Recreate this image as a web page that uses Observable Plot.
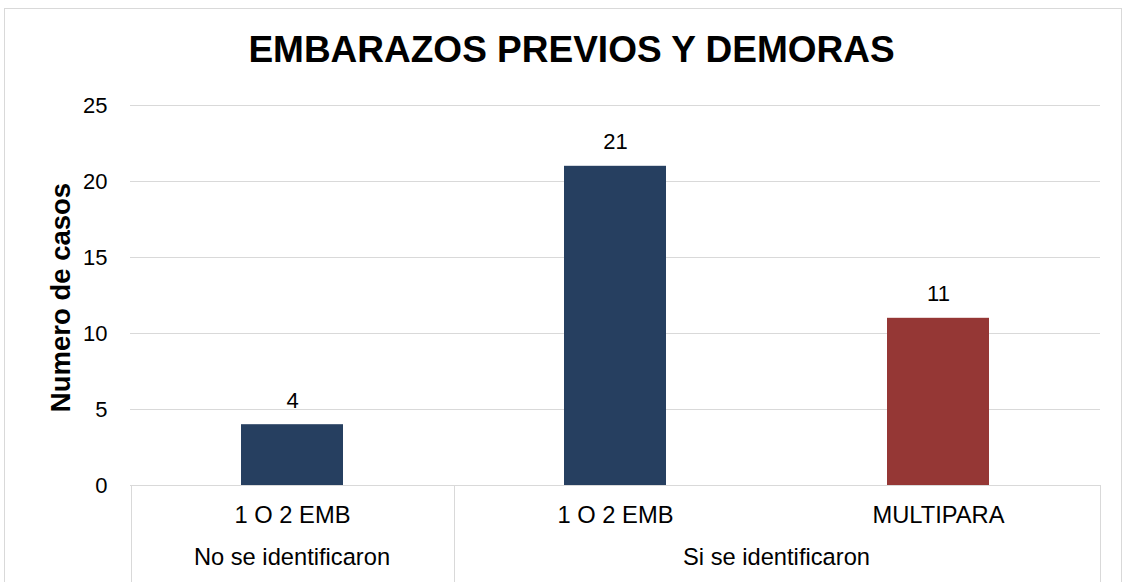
<!DOCTYPE html>
<html>
<head>
<meta charset="utf-8">
<script src="https://cdn.jsdelivr.net/npm/d3@7"></script>
<script src="https://cdn.jsdelivr.net/npm/@observablehq/plot@0.6"></script>
<style>
  html, body { margin: 0; padding: 0; background: #fff; }
  svg { display: block; }
</style>
</head>
<body>
<div id="chart"></div>
<script>
const title = "EMBARAZOS PREVIOS Y DEMORAS";
const yLabel = "Numero de casos";
const keys = ["No|1 O 2 EMB", "Si|1 O 2 EMB", "Si|MULTIPARA"];
const categories = ["1 O 2 EMB", "1 O 2 EMB", "MULTIPARA"];
const groups = ["No se identificaron", "Si se identificaron", "Si se identificaron"];
const values = [4, 21, 11];
const barColors = ["#263F60", "#263F60", "#953735"];
const yTicks = [0, 5, 10, 15, 20, 25];

const data = keys.map((k, i) => ({key: k, category: categories[i], group: groups[i], value: values[i], color: barColors[i]}));
const groupNames = Array.from(new Set(groups));

const font = "'Liberation Sans', Arial, sans-serif";
const gridColor = "#d9d9d9";

function axisDecor(index, scales, values, dimensions) {
  const x = scales.x;
  const step = x.step();
  const bw = x.bandwidth();
  const {width, height, marginBottom} = dimensions;
  const y0 = height - marginBottom;
  const g = d3.create("svg:g");
  // outer chart border
  g.append("rect")
    .attr("x", 4.5).attr("y", 8.5)
    .attr("width", width - 11).attr("height", height + 20)
    .attr("fill", "none").attr("stroke", gridColor);
  // group labels and separators
  const edges = [];
  groupNames.forEach(name => {
    const ks = data.filter(d => d.group === name).map(d => d.key);
    const left = x(ks[0]) + bw / 2 - step / 2;
    const right = x(ks[ks.length - 1]) + bw / 2 + step / 2;
    edges.push(left, right);
    g.append("text")
      .attr("x", (left + right) / 2)
      .attr("y", y0 + 72)
      .attr("dy", "0.35em")
      .attr("text-anchor", "middle")
      .attr("font-family", font)
      .attr("font-size", 23.7)
      .attr("fill", "#000")
      .text(name);
  });
  Array.from(new Set(edges.map(e => Math.round(e)))).forEach(e => {
    g.append("line")
      .attr("x1", e + 0.5).attr("x2", e + 0.5)
      .attr("y1", y0).attr("y2", height + 10)
      .attr("stroke", gridColor);
  });
  return g.node();
}

const chart = Plot.plot({
  width: 1128,
  height: 582,
  marginLeft: 130,
  marginRight: 28,
  marginTop: 105,
  marginBottom: 97,
  style: {fontFamily: font, fontSize: "22px", color: "#000", background: "#fff", overflow: "visible"},
  x: {domain: keys, paddingInner: 0.684, paddingOuter: 0.342, axis: null},
  y: {domain: [0, 25], ticks: yTicks, tickSize: 0, tickPadding: 23, label: null, tickFormat: d => d},
  marks: [
    Plot.ruleY(yTicks, {stroke: gridColor, strokeWidth: 1}),
    Plot.barY(data, {x: "key", y: "value", fill: "color"}),
    Plot.text(data, {x: "key", y: "value", text: d => String(d.value), dy: -24, fontSize: 22, fill: "#000", lineAnchor: "middle"}),
    Plot.text(data, {x: "key", text: "category", frameAnchor: "bottom", dy: 30, fontSize: 23.7, fill: "#000", lineAnchor: "middle"}),
    Plot.text([yLabel], {frameAnchor: "left", textAnchor: "middle", rotate: -90, dx: -69, dy: 2, fontSize: 27.5, fontWeight: "bold", fill: "#000", lineAnchor: "middle"}),
    Plot.text([title], {frameAnchor: "top", dx: -44, dy: -55, fontSize: 37, fontWeight: "bold", fill: "#000", lineAnchor: "middle"}),
    axisDecor
  ]
});

document.getElementById("chart").appendChild(chart);
</script>
</body>
</html>
